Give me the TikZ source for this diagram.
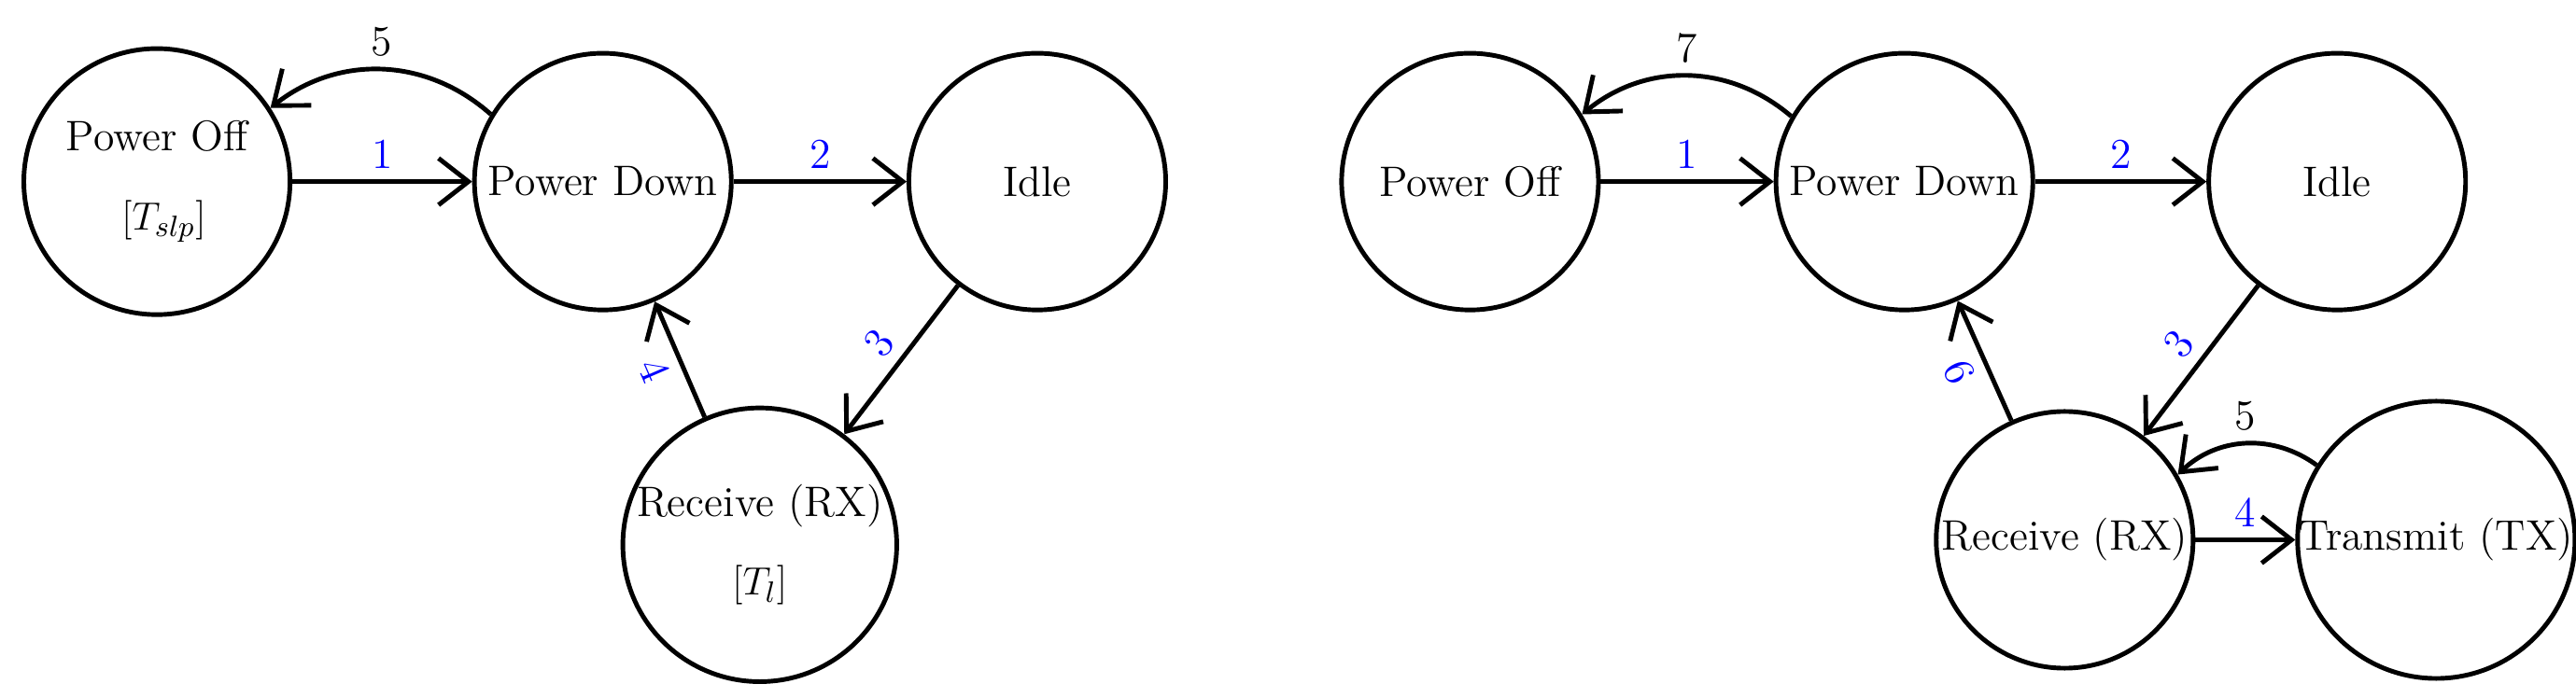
\documentclass[tikz,border=0pt]{standalone}
\usetikzlibrary{arrows.meta}
\begin{document}
\begin{tikzpicture}[x=0.01769cm,y=-0.01769cm,
  st/.style={circle,draw,line width=1.4pt,minimum size=2.75cm,inner sep=0pt,font=\fontsize{13}{24}\selectfont},
  tr/.style={line width=1.4pt,-{Straight Barb[length=3.2mm,width=5mm,line width=1.4pt]}},
  lb/.style={font=\fontsize{13}{15}\selectfont,text=blue},
  lk/.style={font=\fontsize{13}{15}\selectfont}]
\useasboundingbox (0,0) rectangle (1559.6,422.3);
% left
\node[st,minimum size=2.85cm,align=left] (po) at (95,110) {Power Off\\\hspace{1.3em}$[T_{slp}]$};
\node[st] (pd) at (365,110) {Power Down};
\node[st] (id) at (628,110) {Idle};
\node[st,minimum size=2.9cm,align=center] (rx) at (460,330) {Receive (RX)\\$[T_l]$};
\draw[tr] (po) -- node[lb,above]{1} (pd);
\draw[tr] (pd) -- node[lb,above]{2} (id);
\draw[tr] (id) -- node[lb,above,sloped]{3} (rx);
\draw[tr] (rx) -- node[lb,below,sloped]{4} (pd);
\draw[tr] (pd.149) to[bend right=40] node[lk,above]{5} (po.33);
% right
\node[st] (po2) at (890,110) {Power Off};
\node[st] (pd2) at (1153,110) {Power Down};
\node[st] (id2) at (1415,110) {Idle};
\node[st] (rx2) at (1250,327) {Receive (RX)};
\node[st,minimum size=2.68cm] (tx2) at (1475,327) {Transmit (TX)};
\draw[tr] (po2) -- node[lb,above]{1} (pd2);
\draw[tr] (pd2) -- node[lb,above]{2} (id2);
\draw[tr] (id2) -- node[lb,above,sloped]{3} (rx2);
\draw[tr] (rx2) -- node[lb,below,sloped]{6} (pd2);
\draw[tr] (rx2) -- node[lb,above]{4} (tx2);
\draw[tr] (tx2.148) to[bend right=40] node[lk,above]{5} (rx2.30);
\draw[tr] (pd2.150) to[bend right=40] node[lk,above]{7} (po2.31);
\end{tikzpicture}
\end{document}
